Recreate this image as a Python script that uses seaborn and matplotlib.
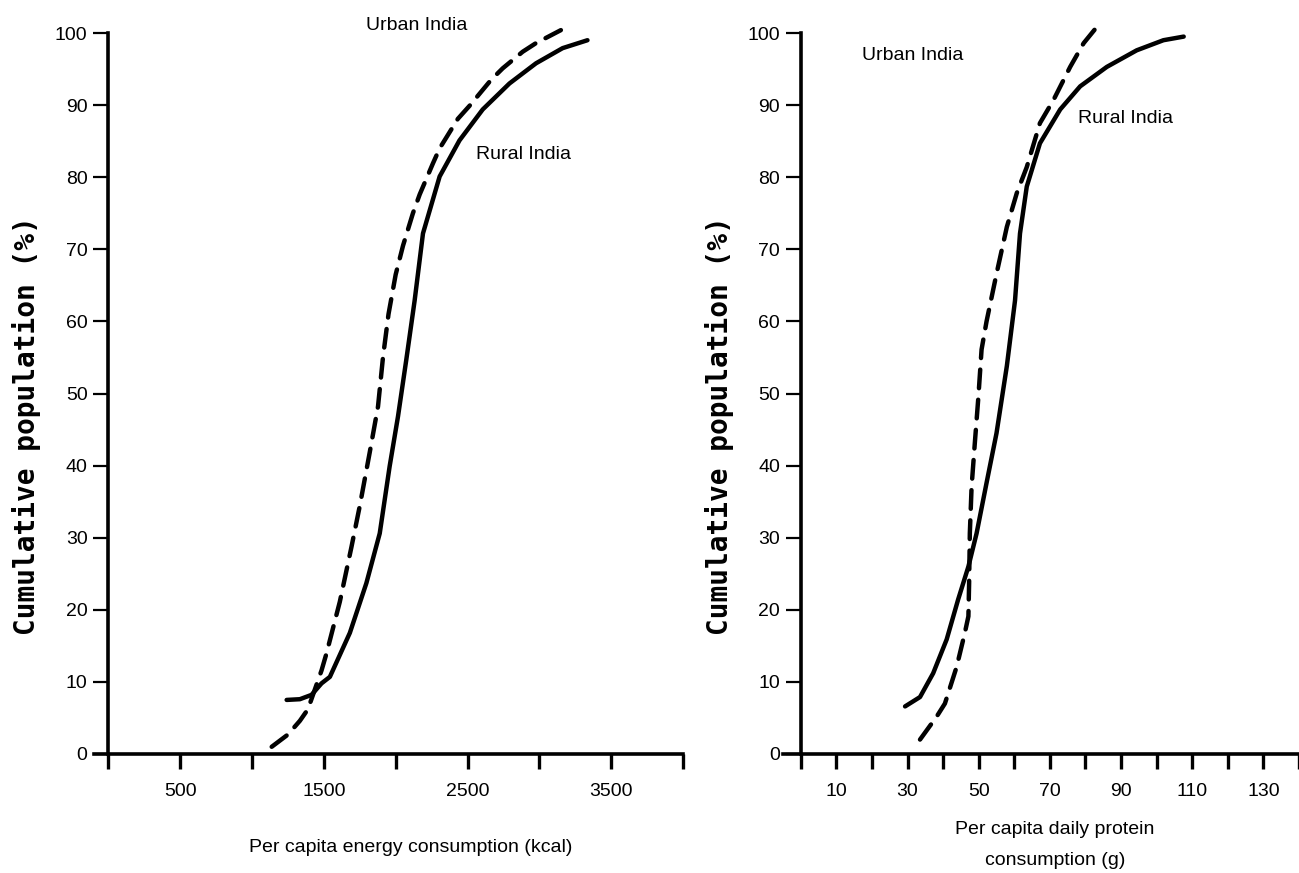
import matplotlib
matplotlib.use('agg')
import matplotlib.pyplot as plt
import seaborn as sns
import pandas as pd

# curves (x = consumption, y = cumulative %)
energy_urban_x = [1137, 1250, 1333, 1389, 1484, 1519, 1611, 1692, 1750, 1819, 1877, 1912, 1950,
                  2000, 2051, 2120, 2167, 2259, 2306, 2433, 2514, 2664, 2745, 2884, 2977, 3150]
energy_urban_y = [1.0, 2.7, 4.6, 6.2, 11.6, 14.0, 21.1, 28.7, 34.4, 41.8, 48.2, 55.1, 61.0,
                  66.5, 70.5, 75.0, 77.6, 81.9, 84.0, 88.1, 89.9, 93.5, 95.1, 97.4, 98.6, 100.4]
energy_rural_x = [1241, 1333, 1414, 1484, 1542, 1681, 1796, 1889, 1958, 2016, 2074, 2132, 2190,
                  2306, 2444, 2606, 2792, 2977, 3162, 3335]
energy_rural_y = [7.5, 7.6, 8.2, 9.8, 10.7, 16.8, 23.7, 30.6, 39.9, 46.8, 54.7, 62.9, 72.2,
                  80.1, 85.1, 89.4, 93.0, 95.8, 97.9, 99.0]

protein_urban_x = [33.5, 38.2, 40.5, 43.8, 46.1, 47.1, 47.3, 47.5, 48.0, 48.9, 49.9, 50.8, 52.2,
                   55.0, 57.9, 60.7, 63.5, 67.2, 71.0, 75.7, 79.5, 82.8]
protein_urban_y = [2.0, 5.2, 7.0, 12.1, 16.8, 19.1, 23.7, 30.6, 37.1, 43.1, 49.5, 56.1, 60.0,
                   66.6, 73.1, 77.8, 81.4, 87.5, 90.7, 95.3, 98.6, 100.6]
protein_rural_x = [29.3, 33.5, 37.2, 41.0, 44.2, 47.1, 49.4, 52.2, 55.0, 57.9, 60.2, 61.6, 63.5,
                   67.2, 72.9, 78.5, 86.0, 94.4, 101.9, 107.6]
protein_rural_y = [6.6, 7.9, 11.2, 15.9, 21.4, 26.0, 30.6, 37.6, 44.5, 53.8, 62.9, 72.2, 78.7,
                   84.7, 89.4, 92.6, 95.3, 97.6, 99.0, 99.5]

energy_ticks = list(range(0, 4001, 500))
energy_labels = [str(t) if t in (500, 1500, 2500, 3500) else '' for t in energy_ticks]
protein_ticks = list(range(0, 141, 10))
protein_labels = [str(t) if t in (10, 30, 50, 70, 90, 110, 130) else '' for t in protein_ticks]
y_ticks = list(range(0, 101, 10))

sns.set_style('ticks')
plt.rcParams['font.family'] = ['Liberation Sans', 'DejaVu Sans']
for k in ['text.color', 'axes.edgecolor', 'axes.labelcolor', 'xtick.color', 'ytick.color']:
    plt.rcParams[k] = 'black'

fig = plt.figure(figsize=(12.99, 8.73), dpi=100)
ax1 = fig.add_axes([94 / 1299, 119 / 873, 589 / 1299, 721 / 873])
ax2 = fig.add_axes([783 / 1299, 119 / 873, 516 / 1299, 721 / 873])

dash = (0, (4.2, 2.6))


def draw(ax, ux, uy, rx, ry):
    urban = pd.DataFrame({'x': ux, 'y': uy})
    rural = pd.DataFrame({'x': rx, 'y': ry})
    sns.lineplot(data=urban, x='x', y='y', ax=ax, color='black', lw=3.2, linestyle=dash,
                 dash_capstyle='round', sort=False, estimator=None, clip_on=False)
    sns.lineplot(data=rural, x='x', y='y', ax=ax, color='black', lw=3.2,
                 solid_capstyle='round', solid_joinstyle='round', sort=False,
                 estimator=None, clip_on=False)


def style(ax, xlim, xticks, xlabels, xlabel, labelpad, spacing):
    ax.set_xlim(*xlim)
    ax.set_ylim(0, 100)
    for s in ['top', 'right']:
        ax.spines[s].set_visible(False)
    ax.spines['left'].set_position(('data', 0))
    ax.spines['left'].set_linewidth(2.6)
    ax.spines['bottom'].set_linewidth(2.6)
    ax.set_xticks(xticks)
    ax.set_xticklabels(xlabels)
    ax.set_yticks(y_ticks)
    ax.set_yticklabels([str(t) for t in y_ticks])
    ax.tick_params(axis='x', length=11, width=2.4, pad=10, labelsize=14, direction='out')
    ax.tick_params(axis='y', length=11, width=1.6, pad=4, labelsize=14, direction='out')
    ax.set_xlabel(xlabel, fontsize=14, labelpad=labelpad, linespacing=spacing)
    ax.set_ylabel('Cumulative population (%)', fontsize=20, fontweight='bold',
                  family=['DejaVu Sans Mono', 'DejaVu Sans'])


draw(ax1, energy_urban_x, energy_urban_y, energy_rural_x, energy_rural_y)
style(ax1, (-100, 4000), energy_ticks, energy_labels,
      'Per capita energy consumption (kcal)', 28, 1.2)
ax1.xaxis.label.set_x(0.538)
ax1.yaxis.set_label_coords(-0.09, 0.456)
ax1.text(1795, 101.1, 'Urban India', fontsize=14, va='center', ha='left')
ax1.text(2560, 83.1, 'Rural India', fontsize=14, va='center', ha='left')

draw(ax2, protein_urban_x, protein_urban_y, protein_rural_x, protein_rural_y)
style(ax2, (-5, 140), protein_ticks, protein_labels,
      'Per capita daily protein\nconsumption (g)', 15, 2.05)
ax2.xaxis.label.set_x(0.527)
ax2.yaxis.set_label_coords(-0.094, 0.456)
ax2.text(17.2, 96.9, 'Urban India', fontsize=14, va='center', ha='left')
ax2.text(77.9, 88.2, 'Rural India', fontsize=14, va='center', ha='left')

fig.savefig('out.png', dpi=100)
